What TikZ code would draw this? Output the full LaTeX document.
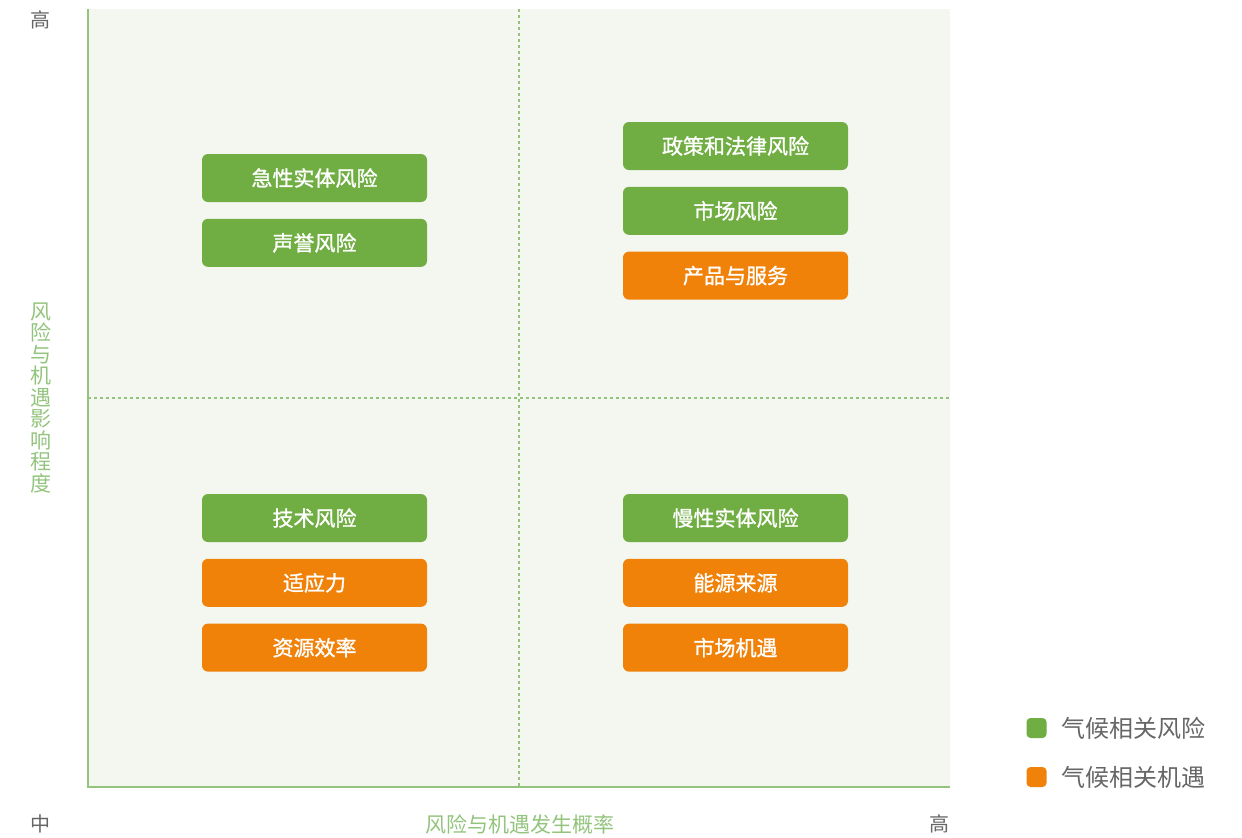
\documentclass[tikz,border=0pt]{standalone}
\usepackage{fontspec}
\setmainfont{Noto Sans CJK SC}
\newfontfamily\boxfont[FakeBold=1.2]{Noto Sans CJK SC}
\usetikzlibrary{positioning}

\definecolor{riskgreen}{HTML}{70AD42}
\definecolor{chanceorange}{HTML}{F0820A}
\definecolor{axisgreen}{HTML}{93C47D}
\definecolor{plotbg}{HTML}{F4F7F0}
\definecolor{labelgray}{HTML}{666666}

\tikzset{
  box/.style={rounded corners=3pt, minimum width=112.5pt, minimum height=24pt,
    inner sep=0pt, text=white, font=\boxfont\fontsize{10.5}{12}\selectfont},
  risk/.style={box, fill=riskgreen},
  chance/.style={box, fill=chanceorange},
  tick/.style={text=labelgray, font=\fontsize{10}{12}\selectfont},
  axistitle/.style={text=axisgreen, font=\fontsize{10.5}{10.75}\selectfont},
  legkey/.style={minimum size=10pt, inner sep=0pt, rounded corners=2pt},
  legtext/.style={text=labelgray, font=\fontsize{12}{14}\selectfont, anchor=west, inner sep=0pt}
}

\begin{document}
\begin{tikzpicture}[x=0.5pt, y=-0.5pt, node distance=8pt]
  \useasboundingbox (0,0) rectangle (1242,837);
  \fill[plotbg] (88,9) rectangle (950,787);
  \draw[axisgreen, line width=0.7pt, dash pattern=on 1.5pt off 1.5pt] (519,9) -- (519,787);
  \draw[axisgreen, line width=0.7pt, dash pattern=on 1.5pt off 1.5pt] (88,398) -- (950,398);
  \draw[axisgreen, line width=1pt] (88,9) -- (88,787) -- (950,787);

  % high impact, lower probability
  \node[risk] (acute) at (314.5,178) {急性实体风险};
  \node[risk, below=of acute] (reputation) {声誉风险};

  % high impact, high probability
  \node[risk] (policy) at (735.5,146) {政策和法律风险};
  \node[risk, below=of policy] (market) {市场风险};
  \node[chance, below=of market] (products) {产品与服务};

  % lower impact, lower probability
  \node[risk] (tech) at (314.5,518) {技术风险};
  \node[chance, below=of tech] (resilience) {适应力};
  \node[chance, below=of resilience] (efficiency) {资源效率};

  % lower impact, high probability
  \node[risk] (chronic) at (735.5,518) {慢性实体风险};
  \node[chance, below=of chronic] (energy) {能源来源};
  \node[chance, below=of energy] (markets) {市场机遇};

  % axes
  \node[tick] (ytop) at (41,20) {高};
  \node[tick] (origin) at (41,824) {中};
  \node[tick] (xright) at (939,824) {高};
  \node[axistitle] (xtitle) at (520,824) {风险与机遇发生概率};
  \node[axistitle, align=center] (ytitle) at (41,398)
    {风\\险\\与\\机\\遇\\影\\响\\程\\度};

  % legend
  \node[legkey, fill=riskgreen] (keyrisk) at (1036.5,728) {};
  \node[legtext, right=7pt of keyrisk] (txtrisk) {气候相关风险};
  \node[legkey, fill=chanceorange] (keychance) at (1036.5,777) {};
  \node[legtext, right=7pt of keychance] (txtchance) {气候相关机遇};
\end{tikzpicture}
\end{document}
